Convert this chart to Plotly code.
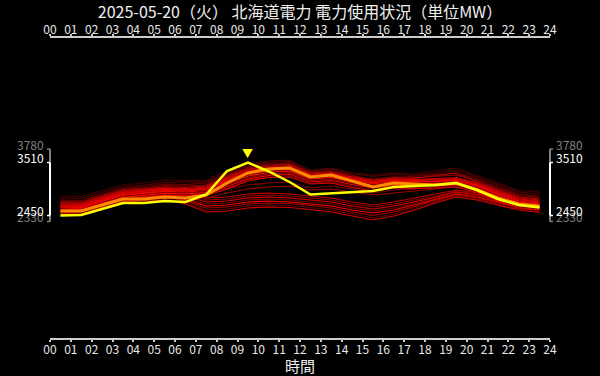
import plotly.graph_objects as go

# ---------------- data ----------------
hours = [h + 0.5 for h in range(24)]
hour_ticks = list(range(25))
hour_labels = [f"{h:02d}" for h in range(25)]

title_text = "2025-05-20（火） 北海道電力 電力使用状況（単位MW）"
x_title = "時間"

today = [2450, 2460, 2580, 2700, 2700, 2740, 2720, 2870, 3340, 3510, 3330, 3120,
         2870, 2890, 2910, 2940, 3020, 3040, 3060, 3100, 2960, 2780, 2660, 2610]

reference_line = [2540, 2540, 2660, 2780, 2780, 2820, 2800, 2860, 3100, 3300, 3380, 3400,
                  3220, 3260, 3140, 3020, 3100, 3080, 3060, 3100, 2960, 2800, 2680, 2640]

past_days = [
    [2840, 2830, 2950, 3060, 3100, 3160, 3150, 3150, 3350, 3480, 3540, 3560, 3360, 3400, 3300, 3260, 3300, 3280, 3350, 3400, 3250, 3100, 2950, 2920],
    [2800, 2790, 2910, 3020, 3060, 3110, 3120, 3120, 3310, 3450, 3520, 3530, 3340, 3380, 3290, 3230, 3270, 3250, 3300, 3350, 3220, 3060, 2920, 2880],
    [2720, 2710, 2830, 2950, 2980, 3000, 2920, 2800, 2820, 2880, 2900, 2880, 2840, 2800, 2720, 2660, 2720, 2800, 2880, 2960, 2900, 2800, 2700, 2650],
    [2760, 2750, 2870, 2990, 3030, 3080, 3070, 3100, 3280, 3420, 3490, 3500, 3320, 3350, 3260, 3120, 3200, 3230, 3260, 3300, 3180, 3020, 2880, 2840],
    [2620, 2610, 2740, 2860, 2900, 2940, 2900, 2880, 2980, 3060, 3100, 3120, 3000, 3040, 2980, 2900, 2960, 2980, 3020, 3080, 2980, 2820, 2700, 2660],
    [2680, 2670, 2790, 2900, 2940, 2960, 2880, 2760, 2780, 2840, 2860, 2840, 2800, 2760, 2680, 2620, 2680, 2760, 2840, 2940, 2880, 2780, 2680, 2630],
    [2730, 2720, 2850, 2970, 3000, 3050, 3040, 3060, 3250, 3400, 3460, 3480, 3300, 3330, 3240, 3180, 3220, 3210, 3230, 3260, 3150, 2990, 2850, 2810],
    [2560, 2550, 2680, 2800, 2840, 2870, 2840, 2800, 2900, 2980, 3020, 3040, 2960, 2980, 2920, 2860, 2900, 2940, 2980, 3040, 2950, 2800, 2680, 2630],
    [2640, 2630, 2750, 2860, 2900, 2920, 2840, 2720, 2740, 2800, 2820, 2800, 2760, 2720, 2640, 2580, 2640, 2720, 2810, 2920, 2860, 2760, 2660, 2610],
    [2700, 2690, 2820, 2940, 2980, 3020, 3010, 3040, 3230, 3380, 3440, 3470, 3290, 3310, 3220, 3160, 3200, 3190, 3250, 3300, 3120, 2960, 2820, 2780],
    [2600, 2590, 2710, 2820, 2860, 2880, 2800, 2680, 2700, 2760, 2780, 2760, 2720, 2680, 2600, 2540, 2600, 2690, 2790, 2900, 2840, 2740, 2640, 2590],
    [2680, 2670, 2800, 2920, 2960, 3000, 2990, 3020, 3210, 3360, 3420, 3450, 3280, 3300, 3210, 3140, 3180, 3170, 3190, 3210, 3100, 2940, 2800, 2760],
    [2560, 2560, 2680, 2790, 2830, 2850, 2770, 2640, 2660, 2720, 2740, 2720, 2680, 2640, 2560, 2500, 2560, 2660, 2770, 2880, 2820, 2720, 2620, 2570],
    [2660, 2650, 2790, 2910, 2950, 2990, 2970, 3000, 3190, 3340, 3400, 3430, 3260, 3290, 3200, 3130, 3170, 3160, 3170, 3190, 3080, 2920, 2780, 2740],
    [2540, 2530, 2650, 2760, 2800, 2820, 2740, 2600, 2620, 2680, 2700, 2690, 2650, 2600, 2520, 2450, 2520, 2630, 2750, 2860, 2800, 2700, 2600, 2550],
    [2640, 2630, 2770, 2890, 2930, 2970, 2960, 2990, 3170, 3320, 3390, 3420, 3250, 3280, 3190, 3110, 3160, 3150, 3160, 3170, 3060, 2900, 2760, 2720],
    [2500, 2500, 2620, 2730, 2770, 2790, 2710, 2560, 2580, 2640, 2660, 2650, 2610, 2560, 2480, 2400, 2480, 2600, 2720, 2840, 2780, 2680, 2580, 2530],
    [2620, 2610, 2750, 2870, 2910, 2950, 2940, 2970, 3150, 3300, 3370, 3400, 3240, 3260, 3170, 3100, 3140, 3130, 3140, 3160, 3050, 2880, 2740, 2700],
    [2480, 2470, 2600, 2710, 2750, 2760, 2680, 2520, 2540, 2600, 2620, 2610, 2570, 2520, 2440, 2360, 2440, 2560, 2700, 2820, 2760, 2660, 2560, 2510],
    [2600, 2590, 2730, 2850, 2890, 2930, 2920, 2950, 3130, 3280, 3350, 3380, 3220, 3250, 3160, 3080, 3130, 3120, 3130, 3140, 3030, 2860, 2720, 2680],
    [2580, 2570, 2710, 2830, 2870, 2910, 2900, 2930, 3110, 3260, 3330, 3360, 3200, 3230, 3140, 3060, 3110, 3100, 3110, 3120, 3010, 2840, 2700, 2660],
    [2560, 2560, 2690, 2810, 2850, 2890, 2880, 2910, 3090, 3240, 3310, 3340, 3180, 3210, 3120, 3040, 3090, 3080, 3090, 3100, 2990, 2820, 2680, 2640],
    [2540, 2540, 2670, 2790, 2830, 2870, 2860, 2890, 3060, 3210, 3280, 3310, 3150, 3180, 3100, 3020, 3070, 3060, 3070, 3080, 2970, 2800, 2660, 2620],
    [2520, 2520, 2650, 2770, 2810, 2850, 2840, 2870, 3030, 3180, 3250, 3280, 3120, 3150, 3070, 3000, 3050, 3040, 3050, 3060, 2950, 2780, 2640, 2600],
    [2500, 2500, 2630, 2750, 2790, 2830, 2830, 2860, 3000, 3160, 3230, 3250, 3100, 3120, 3040, 2970, 3020, 3010, 3020, 3040, 2930, 2760, 2620, 2580],
    [2480, 2480, 2610, 2730, 2770, 2810, 2810, 2850, 2980, 3140, 3210, 3220, 3080, 3100, 3010, 2940, 3000, 2990, 3000, 3020, 2910, 2740, 2600, 2560],
]

past_colors = [
    "#4a0000", "#5a0000", "#c00000", "#700000", "#800000", "#900000", "#900000",
    "#a00000", "#e00000", "#b80000", "#700000", "#c80000", "#ff0000", "#d80000",
    "#a80000", "#e80000", "#600000", "#f00000", "#d80000", "#ff0000", "#900000",
    "#ff1000", "#a00000", "#ff0000", "#700000", "#e00000",
]

overall_range = [2330, 3780]  # gray bracket labels
today_range = [min(today), max(today)]

# ---------------- figure ----------------
FONT = "Noto Sans CJK JP"
fig = go.Figure()

for vals, col in zip(past_days, past_colors):
    fig.add_trace(go.Scatter(x=hours, y=vals, mode="lines",
                             line=dict(color=col, width=1.2),
                             hoverinfo="skip", showlegend=False))

fig.add_trace(go.Scatter(x=hours, y=reference_line, mode="lines",
                         line=dict(color="#ff8c00", width=3),
                         showlegend=False))
fig.add_trace(go.Scatter(x=hours, y=today, mode="lines",
                         line=dict(color="#ffff00", width=2.5),
                         showlegend=False))

# peak marker
peak_i = today.index(max(today))
fig.add_annotation(x=hours[peak_i], y=today[peak_i], text="▼", showarrow=False,
                   yshift=10, font=dict(color="#ffff00", size=11, family=FONT))

# dummy trace for top axis
fig.add_trace(go.Scatter(x=[0, 24], y=[None, None], xaxis="x2", showlegend=False))

axis_common = dict(range=[0, 24], tickvals=hour_ticks, ticktext=hour_labels,
                   showgrid=False, zeroline=False, showline=True,
                   linecolor="#cccccc", linewidth=1.5, ticks="outside",
                   ticklen=2, tickwidth=1.5, tickcolor="#cccccc", automargin=False,
                   tickfont=dict(color="#e8e8e8", size=12, family=FONT))

fig.update_layout(
    width=600, height=376,
    paper_bgcolor="#000000", plot_bgcolor="#000000",
    margin=dict(l=50, r=50, t=38, b=38),
    title=dict(text=title_text, x=0.5, xanchor="center", y=1 - 12 / 376,
               yanchor="middle", yref="container",
               font=dict(color="#f0f0f0", size=16, family=FONT)),
    xaxis=dict(**axis_common, side="bottom", ticklabelstandoff=-2,
               title=dict(text=x_title, standoff=4,
                          font=dict(color="#f0f0f0", size=15, family=FONT))),
    xaxis2=dict(**axis_common, side="top", overlaying="x", anchor="y",
                ticklabelstandoff=-5),
    yaxis=dict(range=[0, 6000], showgrid=False, zeroline=False, automargin=False,
               showline=False, showticklabels=False, ticks=""),
    showlegend=False,
)

# y range brackets (left and right)
for side, xa, sgn, anc in [("left", 0, -1, "right"), ("right", 1, 1, "left")]:
    fig.add_shape(type="line", xref="paper", yref="y", x0=xa, x1=xa,
                  y0=overall_range[0], y1=overall_range[1],
                  line=dict(color="#808080", width=2))
    for v in overall_range:
        fig.add_shape(type="line", xref="paper", yref="y", xsizemode="pixel",
                      xanchor=xa, x0=0, x1=sgn * 3, y0=v, y1=v,
                      line=dict(color="#808080", width=1.5))
        fig.add_annotation(xref="paper", yref="y", x=xa, y=v, text=str(v),
                           showarrow=False, xanchor=anc, xshift=sgn * 4, yshift=5,
                           font=dict(color="#808080", size=12, family=FONT))
    fig.add_shape(type="line", xref="paper", yref="y", x0=xa, x1=xa,
                  y0=today_range[0], y1=today_range[1],
                  line=dict(color="#ffffff", width=2))
    for v in today_range:
        fig.add_shape(type="line", xref="paper", yref="y", xsizemode="pixel",
                      xanchor=xa, x0=0, x1=sgn * 3, y0=v, y1=v,
                      line=dict(color="#ffffff", width=1.5))
        fig.add_annotation(xref="paper", yref="y", x=xa, y=v, text=str(v),
                           showarrow=False, xanchor=anc, xshift=sgn * 4, yshift=5,
                           font=dict(color="#ffffff", size=12, family=FONT))

fig.write_html("out.html", config={"displayModeBar": False},
               post_script="document.body.style.margin='0';")
